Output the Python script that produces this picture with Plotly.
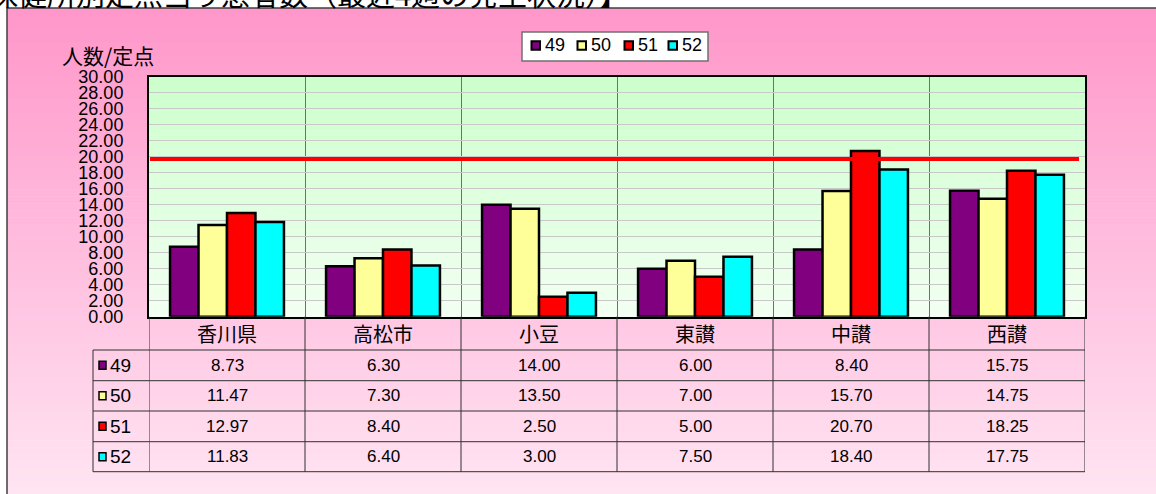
import plotly.graph_objects as go

# ---------------- data ----------------
categories = ["香川県", "高松市", "小豆", "東讃", "中讃", "西讃"]
series_names = ["49", "50", "51", "52"]
v49 = [8.73, 6.30, 14.00, 6.00, 8.40, 15.75]
v50 = [11.47, 7.30, 13.50, 7.00, 15.70, 14.75]
v51 = [12.97, 8.40, 2.50, 5.00, 20.70, 18.25]
v52 = [11.83, 6.40, 3.00, 7.50, 18.40, 17.75]
series_values = [v49, v50, v51, v52]
series_colors = ["#800080", "#FFFF99", "#FF0000", "#00FFFF"]
threshold_value = 19.7
y_tick_values = [0, 2, 4, 6, 8, 10, 12, 14, 16, 18, 20, 22, 24, 26, 28, 30]
y_tick_labels = [f"{v:.2f}" for v in y_tick_values]
title_text = "【保健所別定点当り患者数（最近4週の発生状況）】"
y_title_text = "人数/定点"

# ---------------- layout helpers ----------------
W, H = 1156, 494
def px(x):
    return x / W
def py(y):
    return 1 - y / H

PLOT_L, PLOT_R, PLOT_T, PLOT_B = 149, 1085, 76.7, 316.7
NUM_FONT = "Liberation Sans, Arial, sans-serif"
CJK_FONT = "Noto Sans CJK JP, sans-serif"

def lerp_color(c1, c2, t):
    a = [int(c1[i:i + 2], 16) for i in (1, 3, 5)]
    b = [int(c2[i:i + 2], 16) for i in (1, 3, 5)]
    return "#" + "".join(f"{round(a[k] + (b[k] - a[k]) * t):02X}" for k in range(3))

shapes = []
# pink gradient background box
N = 70
top, bot = 8, H + 2
for i in range(N):
    y0 = top + (bot - top) * i / N
    y1 = top + (bot - top) * (i + 1) / N + 0.6
    shapes.append(dict(type="rect", xref="paper", yref="paper", layer="below",
                       x0=px(7), x1=1.01, y0=py(y1), y1=py(y0),
                       fillcolor=lerp_color("#FF97CA", "#FFE4F2", i / (N - 1)),
                       line=dict(width=0)))
# box border
shapes.append(dict(type="rect", xref="paper", yref="paper", layer="below",
                   x0=px(7), x1=1.02, y0=-0.02, y1=py(8),
                   fillcolor="rgba(0,0,0,0)", line=dict(color="#404040", width=1.5)))
# green gradient plot area
NG = 40
for i in range(NG):
    y0 = PLOT_T + (PLOT_B - PLOT_T) * i / NG
    y1 = PLOT_T + (PLOT_B - PLOT_T) * (i + 1) / NG + 0.6
    shapes.append(dict(type="rect", xref="paper", yref="paper", layer="below",
                       x0=px(PLOT_L), x1=px(PLOT_R), y0=py(y1), y1=py(y0),
                       fillcolor=lerp_color("#CCFFCC", "#F2FFF2", i / (NG - 1)),
                       line=dict(width=0)))

# threshold line
shapes.append(dict(type="line", xref="paper", yref="y", layer="above",
                   x0=px(PLOT_L + 1), x1=px(1079), y0=threshold_value, y1=threshold_value,
                   line=dict(color="#FF0000", width=4)))

# table geometry
ROW_LINES = [350, 380.7, 411, 441.7, 471.7]
TABLE_L = 93
for yv in ROW_LINES:
    shapes.append(dict(type="line", xref="paper", yref="paper",
                       x0=px(TABLE_L), x1=px(PLOT_R), y0=py(yv), y1=py(yv),
                       line=dict(color="#303030", width=1)))
for k in range(len(categories) + 1):
    shapes.append(dict(type="line", xref="x", yref="paper",
                       x0=k - 0.5, x1=k - 0.5, y0=py(PLOT_B), y1=py(ROW_LINES[-1]),
                       line=dict(color="#303030", width=1)))
shapes.append(dict(type="line", xref="paper", yref="paper",
                   x0=px(TABLE_L), x1=px(TABLE_L), y0=py(ROW_LINES[0]), y1=py(ROW_LINES[-1]),
                   line=dict(color="#303030", width=1)))

annotations = []
# category labels
for c in categories:
    annotations.append(dict(x=c, xref="x", y=py((PLOT_B + ROW_LINES[0]) / 2), yref="paper",
                            text=c, showarrow=False, xanchor="center", yanchor="middle",
                            font=dict(family=CJK_FONT, size=20, color="#000")))
# table rows
for r, (name, vals, col) in enumerate(zip(series_names, series_values, series_colors)):
    yc = (ROW_LINES[r] + ROW_LINES[r + 1]) / 2
    shapes.append(dict(type="rect", xref="paper", yref="paper",
                       x0=px(99), x1=px(106), y0=py(yc + 4), y1=py(yc - 4),
                       fillcolor=col, line=dict(color="#000", width=1.5)))
    annotations.append(dict(x=px(107.5), xref="paper", y=py(yc), yref="paper", text=name,
                            showarrow=False, xanchor="left", yanchor="middle",
                            font=dict(family=NUM_FONT, size=19, color="#000")))
    for c, v in zip(categories, vals):
        annotations.append(dict(x=c, xref="x", y=py(yc), yref="paper", text=f"{v:.2f}",
                                showarrow=False, xanchor="center", yanchor="middle",
                                font=dict(family=NUM_FONT, size=17, color="#000")))

# legend (drawn manually to match the compact original)
LEG_L, LEG_R, LEG_T, LEG_B = 522, 708, 32, 61
shapes.append(dict(type="rect", xref="paper", yref="paper",
                   x0=px(LEG_L), x1=px(LEG_R), y0=py(LEG_B), y1=py(LEG_T),
                   fillcolor="#FFFFFF", line=dict(color="#707070", width=1.5)))
leg_sq_x = [531, 577, 624, 668]
leg_yc = 45.5
for name, col, sx in zip(series_names, series_colors, leg_sq_x):
    shapes.append(dict(type="rect", xref="paper", yref="paper",
                       x0=px(sx + 0.5), x1=px(sx + 9), y0=py(leg_yc + 4.3), y1=py(leg_yc - 4.3),
                       fillcolor=col, line=dict(color="#000", width=2)))
    annotations.append(dict(x=px(sx + 12), xref="paper", y=py(leg_yc), yref="paper", text=name,
                            showarrow=False, xanchor="left", yanchor="middle",
                            font=dict(family=NUM_FONT, size=18, color="#000")))

# y title
annotations.append(dict(x=px(108), xref="paper", y=py(55), yref="paper", text=y_title_text,
                        showarrow=False, xanchor="center", yanchor="middle",
                        font=dict(family=CJK_FONT, size=21, color="#000")))
# page title (partially cut off at the top edge)
annotations.append(dict(x=px(631), xref="paper", y=py(-7.5), yref="paper", text=title_text,
                        showarrow=False, xanchor="right", yanchor="middle",
                        font=dict(family=CJK_FONT, size=29, color="#000")))

fig = go.Figure()
for name, vals, col in zip(series_names, series_values, series_colors):
    fig.add_trace(go.Bar(x=categories, y=vals, name=name,
                         marker=dict(color=col, line=dict(color="#000000", width=2.5))))

fig.update_layout(
    width=W, height=H,
    margin=dict(l=0, r=0, t=0, b=0, pad=0, autoexpand=False),
    paper_bgcolor="#FFFFFF",
    plot_bgcolor="rgba(0,0,0,0)",
    barmode="group", bargap=0.27, bargroupgap=0,
    showlegend=False,
    xaxis=dict(domain=[px(PLOT_L), px(PLOT_R)], type="category",
               showticklabels=False, ticks="", tickson="boundaries",
               showgrid=True, gridcolor="#707070", gridwidth=1,
               showline=True, linecolor="#000000", linewidth=2, mirror=True,
               range=[-0.5, len(categories) - 0.5], automargin=False),
    yaxis=dict(domain=[py(PLOT_B), py(PLOT_T)], range=[0, 30],
               tickvals=y_tick_values, ticktext=y_tick_labels, ticks="",
               ticklabelstandoff=20, automargin=False,
               tickfont=dict(family=NUM_FONT, size=18, color="#000"),
               showgrid=True, gridcolor="#C8C8C8", gridwidth=1, zeroline=False,
               showline=True, linecolor="#000000", linewidth=2, mirror=True),
    shapes=shapes,
    annotations=annotations,
)

fig.write_html("out.html", config={"displayModeBar": False},
               post_script="document.body.style.margin='0';document.body.style.overflow='hidden';")
